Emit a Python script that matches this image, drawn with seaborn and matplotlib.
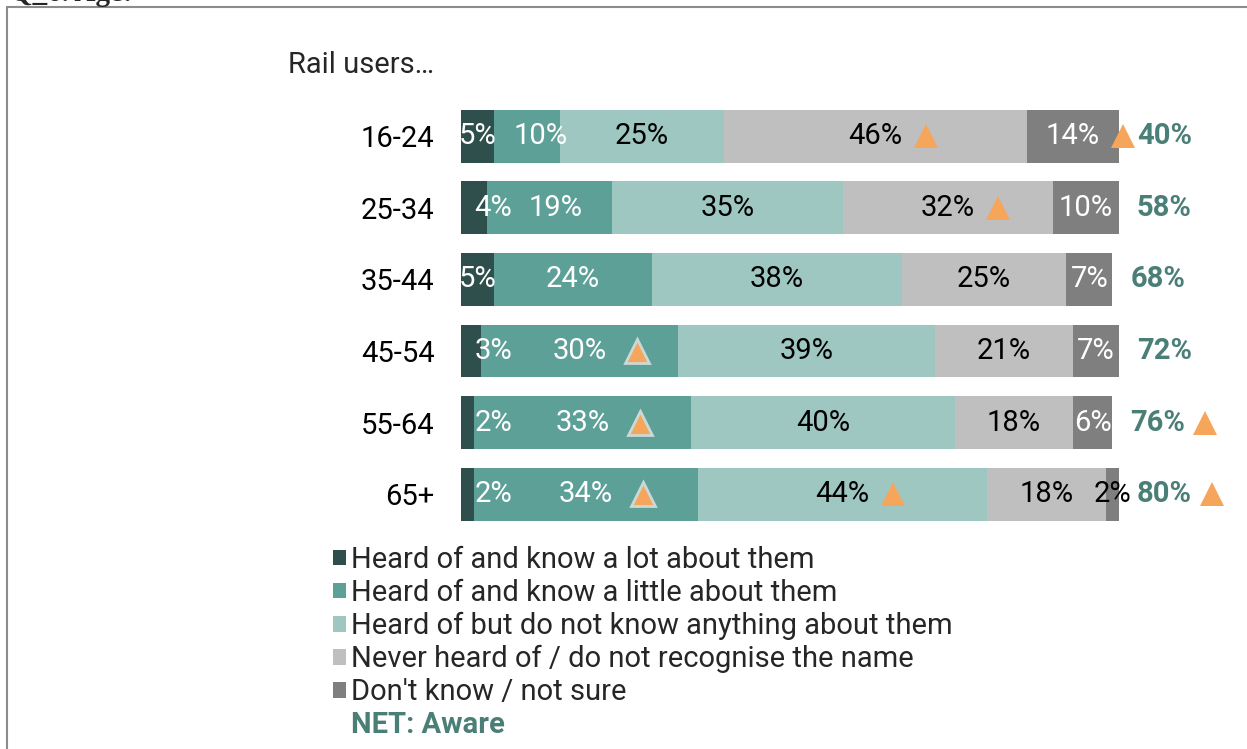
import pandas as pd
import matplotlib.pyplot as plt
import seaborn as sns
from matplotlib.lines import Line2D
from matplotlib.patches import Patch

# données
ages = ['16-24', '25-34', '35-44', '45-54', '55-64', '65+']
categories = ['Heard of and know a lot about them',
              'Heard of and know a little about them',
              'Heard of but do not know anything about them',
              'Never heard of / do not recognise the name',
              "Don't know / not sure"]
lot = [5, 4, 5, 3, 2, 2]
little = [10, 19, 24, 30, 33, 34]
nothing = [25, 35, 38, 39, 40, 44]
never = [46, 32, 25, 21, 18, 18]
dont_know = [14, 10, 7, 7, 6, 2]
net_aware = [40, 58, 68, 72, 76, 80]

# triangles de significativité (1 = triangle affiché)
sig_lot = [0, 0, 0, 0, 0, 0]
sig_little = [0, 0, 0, 1, 1, 1]
sig_nothing = [0, 0, 0, 0, 0, 1]
sig_never = [1, 1, 0, 0, 0, 0]
sig_dont_know = [1, 0, 0, 0, 0, 0]
sig_net = [0, 0, 0, 0, 1, 1]

series = [lot, little, nothing, never, dont_know]
sigs = [sig_lot, sig_little, sig_nothing, sig_never, sig_dont_know]

colors = ['#2e4f4b', '#5ca098', '#9fc7c2', '#bfbfbf', '#7f7f7f']
text_colors = ['white', 'white', 'black', 'black', 'white']
net_color = '#4a7f78'
tri_color = '#f5a65b'

sns.set_theme(style='white')
plt.rcParams['font.family'] = ['Roboto', 'DejaVu Sans']

W, H = 1247, 749
fs = 21
fig = plt.figure(figsize=(W / 100, H / 100), dpi=100)
ax = fig.add_axes([461 / W, 1 - 530 / H, 658 / W, 429.6 / H])

df = pd.DataFrame({'age': ages})
for name, vals in zip(categories, series):
    df[name] = vals
cum = df[categories].cumsum(axis=1)

# barres empilées : on dessine du total cumulé vers le plus petit
for i in reversed(range(len(categories))):
    sns.barplot(x=cum[categories[i]], y=df['age'], color=colors[i], orient='h',
                width=0.74, saturation=1, linewidth=0, ax=ax)

ax.set_xlim(0, 100)
ax.set_ylim(5.5, -0.5)
ax.set_xticks([])
ax.set_xlabel('')
ax.set_ylabel('')
ax.tick_params(axis='y', length=0, pad=19, labelsize=fs, labelcolor='black')
sns.despine(ax=ax, left=True, bottom=True)

px = 100 / 658  # unités de données par pixel
fig.canvas.draw()
renderer = fig.canvas.get_renderer()
inv = ax.transData.inverted()


def right_edge(t):
    bb = t.get_window_extent(renderer)
    return inv.transform((bb.x1, 0))[0], inv.transform((bb.x0, 0))[0]


def triangle(x, y, outline):
    ax.plot(x, y, marker='^', ms=17, color=tri_color, clip_on=False,
            mec='#cbd9d6' if outline else tri_color, mew=2 if outline else 0, zorder=5)


for r in range(len(ages)):
    left = 0
    prev_right = None
    for i, vals in enumerate(series):
        v = vals[r]
        x0 = left
        left += v
        tc = text_colors[i]
        if i == len(series) - 1 and v < 3:
            tc = 'black'
        if i == 0 and v < 5:
            t = ax.text(x0 + 2.0, r, f'{v}%', ha='left', va='center', fontsize=fs, color=tc, zorder=4)
        else:
            t = ax.text(x0 + v / 2, r, f'{v}%', ha='center', va='center', fontsize=fs, color=tc, zorder=4)
        xr, xl = right_edge(t)
        # décalage si l'étiquette est trop près de la précédente
        if prev_right is not None and xl < prev_right + 17 * px:
            shift = prev_right + 17 * px - xl
            t.set_x(t.get_position()[0] + shift)
            xr += shift
        prev_right = xr
        if sigs[i][r]:
            outline = i == 1
            triangle(xr + (30 if outline else 23) * px, r, outline)
    t = ax.text(left + 18 * px, r, f'{net_aware[r]}%', ha='left', va='center', fontsize=fs,
                color=net_color, fontweight='bold')
    xr, _ = right_edge(t)
    if sig_net[r]:
        triangle(xr + 20 * px, r, False)

fig.text(288 / W, 1 - 65 / H, 'Rail users…', ha='left', va='center', fontsize=fs)

# légende
handles = [Patch(facecolor=c, edgecolor='none', label=l) for c, l in zip(colors, categories)]
handles.append(Patch(facecolor='none', edgecolor='none', label='NET: Aware'))
leg = fig.legend(handles=handles, loc='upper left', bbox_to_anchor=(333 / W, 1 - 546 / H),
                 frameon=False, fontsize=fs, handlelength=0.45, handleheight=0.45,
                 handletextpad=0.17, labelspacing=0.17, borderaxespad=0, borderpad=0)
leg.get_texts()[-1].set_color(net_color)
leg.get_texts()[-1].set_fontweight('bold')

# cadre et titre coupé
fig.add_artist(Line2D([7 / W, 1], [1 - 7 / H, 1 - 7 / H], transform=fig.transFigure, color='#8c8c8c', lw=1.5))
fig.add_artist(Line2D([7 / W, 7 / W], [1 - 7 / H, 0], transform=fig.transFigure, color='#8c8c8c', lw=1.5))
fig.text(10 / W, 1 - 1 / H, 'Q_6. Age:', family='Liberation Serif', fontweight='bold', fontsize=21,
         va='baseline')

plt.savefig('out.png', dpi=100)
print("Graphique sauvegardé : out.png")
